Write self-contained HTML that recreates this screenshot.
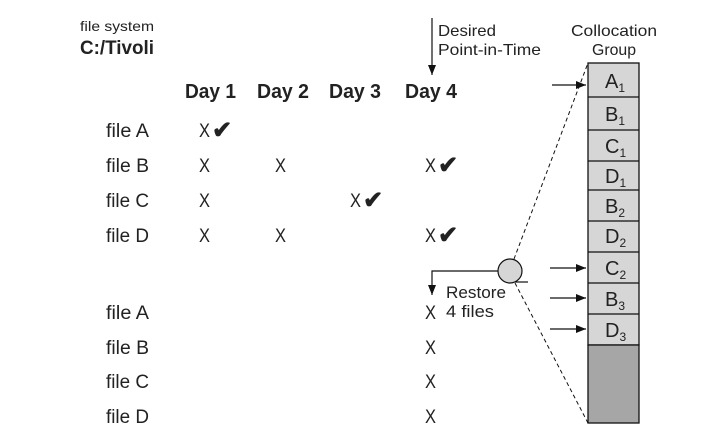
<!DOCTYPE html>
<html><head><meta charset="utf-8"><style>
html,body{margin:0;padding:0;background:#fff;}
svg{display:block;}
text{font-family:"Liberation Sans",sans-serif;fill:#222;}
</style></head><body>
<svg width="712" height="446" viewBox="0 0 712 446" xmlns="http://www.w3.org/2000/svg">
<defs>
<marker id="ah" markerWidth="10" markerHeight="8" refX="10" refY="4" orient="auto" markerUnits="userSpaceOnUse">
<path d="M0,0 L10,4 L0,8 Z" fill="#111"/></marker>
</defs>
<text x="80" y="31" font-size="14" textLength="74" lengthAdjust="spacingAndGlyphs">file system</text>
<text x="80" y="54" font-size="19" font-weight="bold" textLength="74" lengthAdjust="spacingAndGlyphs">C:/Tivoli</text>

<g font-size="20" font-weight="bold">
<text x="185" y="98" textLength="51" lengthAdjust="spacingAndGlyphs">Day 1</text>
<text x="257" y="98" textLength="52" lengthAdjust="spacingAndGlyphs">Day 2</text>
<text x="329" y="98" textLength="52" lengthAdjust="spacingAndGlyphs">Day 3</text>
<text x="405" y="98" textLength="52" lengthAdjust="spacingAndGlyphs">Day 4</text>
</g>

<g font-size="19">
<text x="106" y="137" textLength="43" lengthAdjust="spacingAndGlyphs">file A</text>
<text x="106" y="172" textLength="43" lengthAdjust="spacingAndGlyphs">file B</text>
<text x="106" y="207" textLength="43" lengthAdjust="spacingAndGlyphs">file C</text>
<text x="106" y="242" textLength="43" lengthAdjust="spacingAndGlyphs">file D</text>
<text x="106" y="319" textLength="43" lengthAdjust="spacingAndGlyphs">file A</text>
<text x="106" y="354" textLength="43" lengthAdjust="spacingAndGlyphs">file B</text>
<text x="106" y="388" textLength="43" lengthAdjust="spacingAndGlyphs">file C</text>
<text x="106" y="423" textLength="43" lengthAdjust="spacingAndGlyphs">file D</text>
</g>
<g font-size="19">
<text x="199" y="137" textLength="11" lengthAdjust="spacingAndGlyphs">X</text>
<text x="199" y="172" textLength="11" lengthAdjust="spacingAndGlyphs">X</text><text x="275" y="172" textLength="11" lengthAdjust="spacingAndGlyphs">X</text><text x="425" y="172" textLength="11" lengthAdjust="spacingAndGlyphs">X</text>
<text x="199" y="207" textLength="11" lengthAdjust="spacingAndGlyphs">X</text><text x="350" y="207" textLength="11" lengthAdjust="spacingAndGlyphs">X</text>
<text x="199" y="242" textLength="11" lengthAdjust="spacingAndGlyphs">X</text><text x="275" y="242" textLength="11" lengthAdjust="spacingAndGlyphs">X</text><text x="425" y="242" textLength="11" lengthAdjust="spacingAndGlyphs">X</text>
<text x="425" y="319" textLength="11" lengthAdjust="spacingAndGlyphs">X</text>
<text x="425" y="354" textLength="11" lengthAdjust="spacingAndGlyphs">X</text>
<text x="425" y="388" textLength="11" lengthAdjust="spacingAndGlyphs">X</text>
<text x="425" y="423" textLength="11" lengthAdjust="spacingAndGlyphs">X</text>
</g>
<g font-size="24" font-weight="bold">
<text x="212" y="138">✔</text>
<text x="438" y="173">✔</text>
<text x="363" y="208">✔</text>
<text x="438" y="243">✔</text>
</g>

<line x1="432" y1="18" x2="432" y2="75" stroke="#111" stroke-width="1.2" marker-end="url(#ah)"/>
<text x="438" y="36" font-size="16" textLength="58" lengthAdjust="spacingAndGlyphs">Desired</text>
<text x="438" y="55" font-size="16" textLength="103" lengthAdjust="spacingAndGlyphs">Point-in-Time</text>

<text x="571" y="36" font-size="16" textLength="86" lengthAdjust="spacingAndGlyphs">Collocation</text>
<text x="592" y="55" font-size="16" textLength="44" lengthAdjust="spacingAndGlyphs">Group</text>

<rect x="588" y="63" width="51" height="282" fill="#d6d6d6" stroke="#111" stroke-width="1.3"/>
<rect x="588" y="345" width="51" height="78" fill="#a6a6a6" stroke="#111" stroke-width="1.3"/>
<g stroke="#111" stroke-width="1.3">
<line x1="588" y1="97" x2="639" y2="97"/>
<line x1="588" y1="130" x2="639" y2="130"/>
<line x1="588" y1="161" x2="639" y2="161"/>
<line x1="588" y1="190" x2="639" y2="190"/>
<line x1="588" y1="221" x2="639" y2="221"/>
<line x1="588" y1="252" x2="639" y2="252"/>
<line x1="588" y1="283" x2="639" y2="283"/>
<line x1="588" y1="314" x2="639" y2="314"/>
</g>
<g font-size="20">
<text x="605" y="88">A<tspan font-size="12" dy="4">1</tspan></text>
<text x="605" y="121">B<tspan font-size="12" dy="4">1</tspan></text>
<text x="605" y="153">C<tspan font-size="12" dy="4">1</tspan></text>
<text x="605" y="183">D<tspan font-size="12" dy="4">1</tspan></text>
<text x="605" y="213">B<tspan font-size="12" dy="4">2</tspan></text>
<text x="605" y="243">D<tspan font-size="12" dy="4">2</tspan></text>
<text x="605" y="275">C<tspan font-size="12" dy="4">2</tspan></text>
<text x="605" y="306">B<tspan font-size="12" dy="4">3</tspan></text>
<text x="605" y="337">D<tspan font-size="12" dy="4">3</tspan></text>
</g>

<g stroke="#111" stroke-width="1.2">
<line x1="552" y1="85" x2="586" y2="85" marker-end="url(#ah)"/>
<line x1="550" y1="268" x2="586" y2="268" marker-end="url(#ah)"/>
<line x1="550" y1="298" x2="586" y2="298" marker-end="url(#ah)"/>
<line x1="550" y1="329" x2="586" y2="329" marker-end="url(#ah)"/>
</g>

<g stroke="#111" stroke-width="1" stroke-dasharray="4,3" fill="none">
<line x1="514" y1="259" x2="588" y2="63"/>
<line x1="515" y1="283" x2="588" y2="423"/>
</g>

<polyline points="498,271 432,271 432,295" fill="none" stroke="#111" stroke-width="1.2" marker-end="url(#ah)"/>
<line x1="515" y1="282" x2="528" y2="282" stroke="#111" stroke-width="1.2"/>
<circle cx="510" cy="271" r="12" fill="#d6d6d6" stroke="#111" stroke-width="1.2"/>
<text x="446" y="298" font-size="17" textLength="60" lengthAdjust="spacingAndGlyphs">Restore</text>
<text x="446" y="317" font-size="17" textLength="48" lengthAdjust="spacingAndGlyphs">4 files</text>
</svg>
</body></html>
